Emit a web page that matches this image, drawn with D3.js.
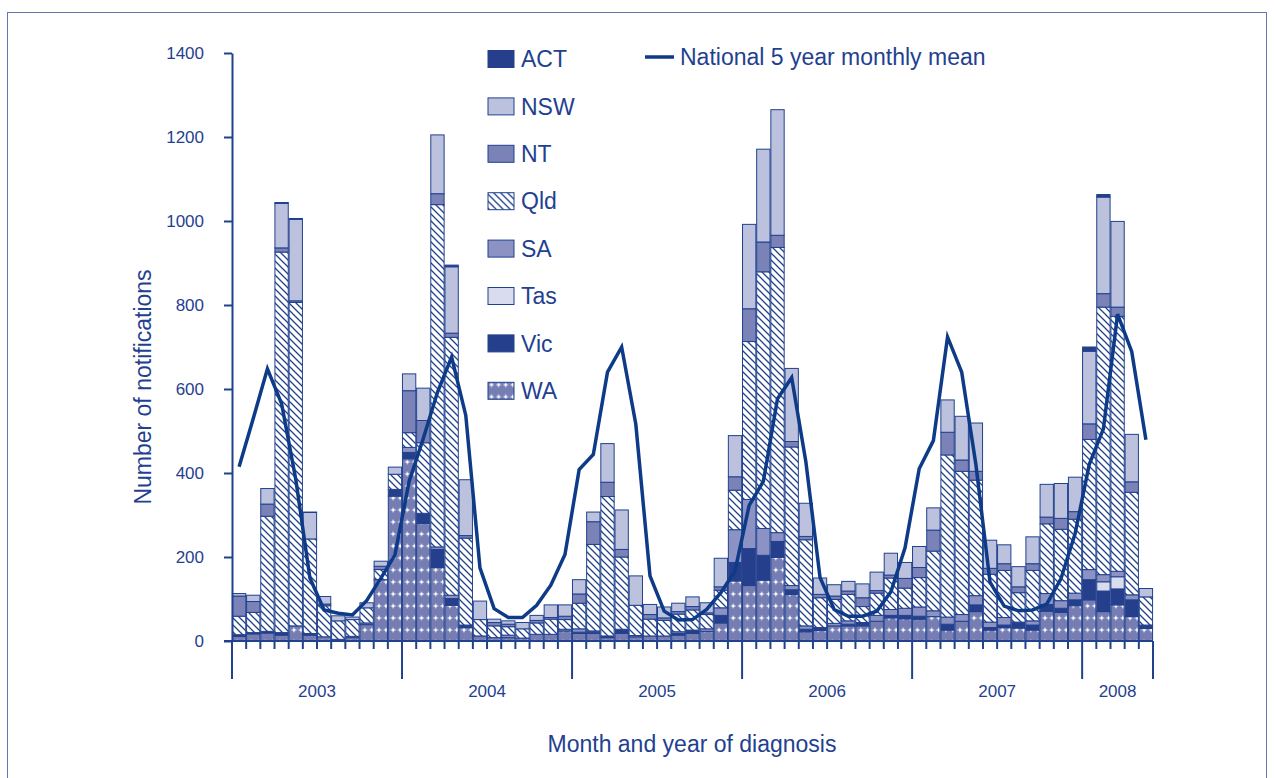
<!DOCTYPE html>
<html>
<head>
<meta charset="utf-8">
<script src="https://cdn.jsdelivr.net/npm/d3@7"></script>
<style>
    body { margin: 0; background: #fff; }
    svg { display: block; font-family: "Liberation Sans", Arial, sans-serif; }
</style>
</head>
<body>
<svg id="chart" width="1274" height="778"></svg>
<script>
var width = 1274,
    height = 778;

// Categories: months Jan 2003 - May 2008
var years = ["2003", "2004", "2005", "2006", "2007", "2008"];
var monthsPerYear = [12, 12, 12, 12, 12, 5];

// Notifications per month, by state
var WA = [11, 17, 19, 14, 36, 14, 10, 4, 8, 39, 146, 345,
    434, 280, 175, 85, 32, 12, 8, 8, 7, 16, 16, 24,
    18, 18, 8, 18, 10, 12, 12, 14, 18, 23, 43, 143,
    132, 145, 199, 111, 22, 25, 36, 36, 36, 47, 55, 53,
    52, 58, 26, 47, 70, 26, 32, 31, 26, 71, 68, 84,
    98, 70, 86, 58, 30];
var Vic = [4, 3, 4, 6, 0, 4, 0, 0, 0, 0, 0, 16,
    15, 24, 43, 16, 6, 0, 0, 0, 0, 0, 0, 0,
    3, 3, 4, 10, 0, 0, 0, 4, 8, 0, 18, 44,
    88, 59, 38, 11, 6, 7, 0, 4, 8, 0, 6, 8,
    7, 0, 14, 0, 16, 6, 6, 14, 12, 16, 10, 14,
    48, 49, 38, 40, 8];
var Tas = [0, 0, 0, 0, 0, 0, 0, 0, 0, 0, 0, 0,
    0, 0, 0, 0, 0, 0, 0, 0, 0, 0, 0, 0,
    0, 0, 0, 0, 0, 0, 0, 0, 0, 0, 0, 0,
    0, 0, 0, 0, 0, 0, 0, 0, 0, 0, 0, 0,
    0, 0, 0, 0, 0, 0, 0, 0, 0, 0, 0, 0,
    0, 22, 29, 0, 0];
var SA = [0, 0, 0, 0, 0, 0, 0, 0, 3, 4, 0, 0,
    12, 0, 6, 8, 0, 0, 0, 6, 0, 0, 0, 4,
    8, 3, 0, 0, 3, 0, 0, 4, 0, 6, 18, 78,
    117, 64, 21, 10, 8, 0, 6, 8, 0, 14, 14, 17,
    22, 14, 17, 16, 22, 13, 18, 0, 10, 26, 18, 16,
    24, 17, 13, 12, 0];
var Qld = [44, 48, 274, 906, 770, 225, 74, 44, 40, 36, 24, 36,
    35, 168, 815, 614, 207, 39, 28, 20, 22, 27, 36, 23,
    61, 206, 332, 172, 72, 40, 37, 42, 48, 34, 42, 94,
    376, 611, 679, 330, 205, 71, 57, 63, 38, 53, 75, 48,
    70, 142, 386, 341, 275, 114, 112, 70, 120, 166, 170, 176,
    310, 637, 607, 244, 67];
var NT = [48, 26, 29, 10, 4, 0, 4, 0, 0, 0, 8, 0,
    100, 53, 26, 10, 6, 0, 8, 6, 0, 6, 4, 8,
    22, 54, 34, 18, 0, 11, 6, 6, 8, 4, 8, 32,
    78, 71, 29, 13, 8, 8, 8, 8, 21, 6, 7, 23,
    24, 50, 54, 27, 21, 14, 16, 14, 16, 16, 26, 18,
    37, 32, 22, 25, 0];
var NSW = [6, 15, 37, 106, 194, 63, 18, 12, 6, 12, 12, 17,
    40, 77, 140, 158, 133, 44, 8, 8, 15, 12, 30, 27,
    34, 23, 92, 94, 70, 24, 26, 20, 23, 24, 68, 98,
    201, 221, 299, 174, 79, 39, 27, 23, 33, 44, 52, 38,
    50, 53, 77, 104, 115, 67, 45, 48, 64, 78, 83, 82,
    173, 230, 204, 113, 20];
var ACT = [0, 0, 0, 2, 2, 1, 0, 0, 0, 0, 0, 0,
    0, 0, 0, 4, 0, 0, 0, 0, 0, 0, 0, 0,
    0, 0, 0, 0, 0, 0, 0, 0, 0, 0, 0, 0,
    0, 0, 0, 0, 0, 0, 0, 0, 0, 0, 0, 0,
    0, 0, 0, 0, 0, 0, 0, 0, 0, 0, 0, 0,
    10, 6, 0, 0, 0];

// National 5 year monthly mean
var national_mean = [415, 530, 648, 565, 385, 150, 74, 66, 62, 96, 149, 205,
    380, 482, 592, 676, 537, 174, 77, 56, 56, 85, 133, 206,
    408, 444, 640, 700, 516, 155, 71, 50, 51, 75, 115, 167,
    323, 380, 577, 627, 427, 151, 75, 59, 59, 71, 117, 222,
    410, 477, 724, 640, 420, 140, 83, 72, 74, 88, 148, 255,
    420, 505, 778, 689, 479];

var y_ticks = [0, 200, 400, 600, 800, 1000, 1200, 1400];

// Stack order bottom -> top; legend is shown top -> bottom
var states = ["WA", "Vic", "Tas", "SA", "Qld", "NT", "NSW", "ACT"];
var state_values = { WA: WA, Vic: Vic, Tas: Tas, SA: SA, Qld: Qld, NT: NT, NSW: NSW, ACT: ACT };

var navy = "#21418e";
var text_color = "#1f4190";
var fills = {
    WA: "url(#dots)",
    Vic: "#263f8c",
    Tas: "#d9dcee",
    SA: "#8c93c4",
    Qld: "url(#hatch)",
    NT: "#7a82b8",
    NSW: "#bcc1dd",
    ACT: "#263f8c"
};

// Build month keys and table rows
var month_keys = [];
var year_start = [];
years.forEach(function (yr, yi) {
    year_start.push(month_keys.length);
    for (var m = 1; m <= monthsPerYear[yi]; m++) {
        month_keys.push(yr + "-" + (m < 10 ? "0" + m : m));
    }
});
var rows = month_keys.map(function (k, i) {
    var r = { month: k };
    states.forEach(function (s) { r[s] = state_values[s][i]; });
    return r;
});

var svg = d3.select("#chart");

// Patterns
var defs = svg.append("defs");
var hatch = defs.append("pattern")
    .attr("id", "hatch")
    .attr("patternUnits", "userSpaceOnUse")
    .attr("width", 7)
    .attr("height", 7);
hatch.append("rect").attr("width", 7).attr("height", 7).attr("fill", "#fff");
hatch.append("path")
    .attr("d", "M0,0L7,7M-2,5L2,9M5,-2L9,2")
    .attr("stroke", navy)
    .attr("stroke-width", 1.3);

var dots = defs.append("pattern")
    .attr("id", "dots")
    .attr("patternUnits", "userSpaceOnUse")
    .attr("width", 7.085)
    .attr("height", 12);
dots.append("rect").attr("width", 7.085).attr("height", 12).attr("fill", "#757db3");
dots.append("path")
    .attr("d", "M3.5,3L4.3,5.2L6.5,6L4.3,6.8L3.5,9L2.7,6.8L0.5,6L2.7,5.2Z")
    .attr("fill", "#fff");

// Frame
svg.append("rect")
    .attr("x", 7.5)
    .attr("y", 12.5)
    .attr("width", 1259)
    .attr("height", 800)
    .attr("fill", "none")
    .attr("stroke", "#5f79b0")
    .attr("stroke-width", 1);

// Scales
var x = d3.scaleBand()
    .domain(month_keys)
    .range([232, 1153])
    .paddingInner(0.06)
    .paddingOuter(0.03);
var y = d3.scaleLinear().domain([0, 1400]).range([641, 53]);

// Bars
var stacked = d3.stack().keys(states)(rows);
svg.append("g")
    .attr("class", "bars")
    .selectAll("g")
    .data(stacked)
    .join("g")
    .attr("fill", function (d) {
        return fills[d.key];
    })
    .selectAll("rect")
    .data(function (d) {
        return d.filter(function (p) { return p[1] - p[0] > 0; });
    })
    .join("rect")
    .attr("x", function (d) {
        return x(d.data.month);
    })
    .attr("y", function (d) {
        return y(d[1]);
    })
    .attr("width", x.bandwidth())
    .attr("height", function (d) {
        return y(d[0]) - y(d[1]);
    })
    .attr("stroke", navy)
    .attr("stroke-width", 1);

// Mean line
var line = d3.line()
    .x(function (d, i) {
        return x(month_keys[i]) + x.bandwidth() / 2;
    })
    .y(function (d) {
        return y(d);
    });
svg.append("path")
    .datum(national_mean)
    .attr("d", line)
    .attr("fill", "none")
    .attr("stroke", "#0d3b87")
    .attr("stroke-width", 3.5);

// Y axis
var y_axis = svg.append("g")
    .attr("transform", "translate(232,0)")
    .call(d3.axisLeft(y)
        .tickValues(y_ticks)
        .tickFormat(d3.format("d"))
        .tickSize(8)
        .tickSizeOuter(0)
        .tickPadding(20));
y_axis.select(".domain").attr("stroke", navy).attr("stroke-width", 2);
y_axis.selectAll(".tick line").attr("stroke", navy).attr("stroke-width", 2);
y_axis.selectAll(".tick text")
    .attr("fill", text_color)
    .style("font-size", "17px")
    .style("font-family", "'Liberation Sans', Arial, sans-serif");

// X axis line + month / year ticks
var x0 = x.range()[0];
var step = x.step();
svg.append("line")
    .attr("x1", 224)
    .attr("x2", x0 + step * month_keys.length)
    .attr("y1", 641)
    .attr("y2", 641)
    .attr("stroke", navy)
    .attr("stroke-width", 2);

var tick_idx = d3.range(month_keys.length + 1);
svg.append("g")
    .selectAll("line")
    .data(tick_idx)
    .join("line")
    .attr("x1", function (i) { return x0 + step * i; })
    .attr("x2", function (i) { return x0 + step * i; })
    .attr("y1", 641)
    .attr("y2", function (i) {
        return (year_start.indexOf(i) >= 0 || i == month_keys.length) ? 679 : 649;
    })
    .attr("stroke", navy)
    .attr("stroke-width", 2);

svg.append("g")
    .selectAll("text")
    .data(years)
    .join("text")
    .attr("x", function (d, i) {
        return x0 + step * (year_start[i] + monthsPerYear[i] / 2);
    })
    .attr("y", 691)
    .attr("dy", "0.35em")
    .attr("text-anchor", "middle")
    .attr("fill", text_color)
    .style("font-size", "17px")
    .text(function (d) { return d; });

// Axis titles
svg.append("text")
    .attr("x", 692)
    .attr("y", 744)
    .attr("dy", "0.35em")
    .attr("text-anchor", "middle")
    .attr("fill", text_color)
    .style("font-size", "23px")
    .text("Month and year of diagnosis");

svg.append("text")
    .attr("transform", "translate(143,387) rotate(-90)")
    .attr("dy", "0.35em")
    .attr("text-anchor", "middle")
    .attr("fill", text_color)
    .style("font-size", "23px")
    .text("Number of notifications");

// Legend
var legend_order = states.slice().reverse();
var legend = svg.append("g")
    .selectAll("g")
    .data(legend_order)
    .join("g")
    .attr("transform", function (d, i) {
        return "translate(488," + (59 + i * 47.4) + ")";
    });
legend.append("rect")
    .attr("x", 0)
    .attr("y", -8.5)
    .attr("width", 26)
    .attr("height", 17)
    .attr("fill", function (d) { return fills[d]; })
    .attr("stroke", navy)
    .attr("stroke-width", 1);
legend.append("text")
    .attr("x", 33)
    .attr("dy", "0.36em")
    .attr("fill", text_color)
    .style("font-size", "23px")
    .text(function (d) { return d; });

svg.append("line")
    .attr("x1", 645)
    .attr("x2", 674)
    .attr("y1", 57)
    .attr("y2", 57)
    .attr("stroke", "#0d3b87")
    .attr("stroke-width", 3.5);
svg.append("text")
    .attr("x", 680)
    .attr("y", 57)
    .attr("dy", "0.36em")
    .attr("fill", text_color)
    .style("font-size", "23px")
    .text("National 5 year monthly mean");
</script>
</body>
</html>
